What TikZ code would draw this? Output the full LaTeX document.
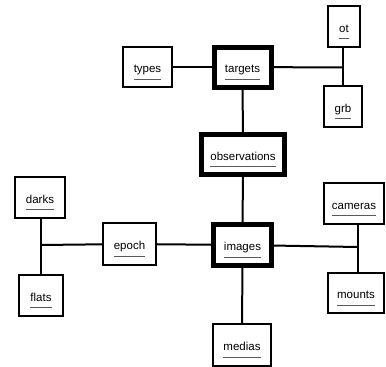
\documentclass[tikz,border=0pt]{standalone}
\usepackage{fontspec}
\setmainfont{Liberation Sans}
\definecolor{ulgray}{gray}{0.35}
\newsavebox\ulbox
\newcommand\ultext[1]{\sbox\ulbox{#1}\rule{0pt}{18.5pt}\usebox\ulbox\llap{\textcolor{ulgray}{\rule[-7pt]{\wd\ulbox}{1pt}}}}
\begin{document}
\begin{tikzpicture}[x=1pt,y=-1pt,
  ent/.style={draw,line width=2pt,inner sep=0pt,font=\fontsize{11.5}{13}\selectfont},
  mainent/.style={ent,line width=5pt},
  conn/.style={line width=2pt}]
\useasboundingbox (0,0) rectangle (386,367);
% entities
\node[ent,minimum width=49pt,minimum height=40pt] (types) at (147.5,67) {\ultext{types}};
\node[mainent,minimum width=57pt,minimum height=40pt] (targets) at (242.5,67) {\ultext{targets}};
\node[ent,minimum width=32pt,minimum height=41pt] (ot) at (344,26.5) {\ultext{ot}};
\node[ent,minimum width=38pt,minimum height=41pt] (grb) at (343,106.5) {\ultext{grb}};
\node[mainent,minimum width=83pt,minimum height=40pt] (observations) at (243,154.5) {\ultext{observations}};
\node[ent,minimum width=50pt,minimum height=41pt] (darks) at (40,197.5) {\ultext{darks}};
\node[ent,minimum width=44pt,minimum height=41pt] (flats) at (41,295.5) {\ultext{flats}};
\node[ent,minimum width=53pt,minimum height=42pt] (epoch) at (129.5,244) {\ultext{epoch}};
\node[mainent,minimum width=58pt,minimum height=41pt] (images) at (242.5,245) {\ultext{images}};
\node[ent,minimum width=60pt,minimum height=41pt] (cameras) at (354,203.5) {\ultext{cameras}};
\node[ent,minimum width=56pt,minimum height=40pt] (mounts) at (356,293) {\ultext{mounts}};
\node[ent,minimum width=58pt,minimum height=42pt] (medias) at (242,345) {\ultext{medias}};
% junctions
\coordinate (J1) at (343.3,67.5);
\coordinate (J2) at (40.7,245);
\coordinate (J3) at (357.7,247);
% connectors
\draw[conn] (types) -- (targets);
\draw[conn] (targets) -- (J1);
\draw[conn] (J1 |- ot.south) -- (J1 |- grb.north);
\draw[conn] (targets) -- (observations);
\draw[conn] (observations) -- (images);
\draw[conn] (images) -- (medias);
\draw[conn] (epoch) -- (images);
\draw[conn] (epoch) -- (J2);
\draw[conn] (J2 |- darks.south) -- (J2 |- flats.north);
\draw[conn] (images) -- (J3);
\draw[conn] (J3 |- cameras.south) -- (J3 |- mounts.north);
\end{tikzpicture}
\end{document}
